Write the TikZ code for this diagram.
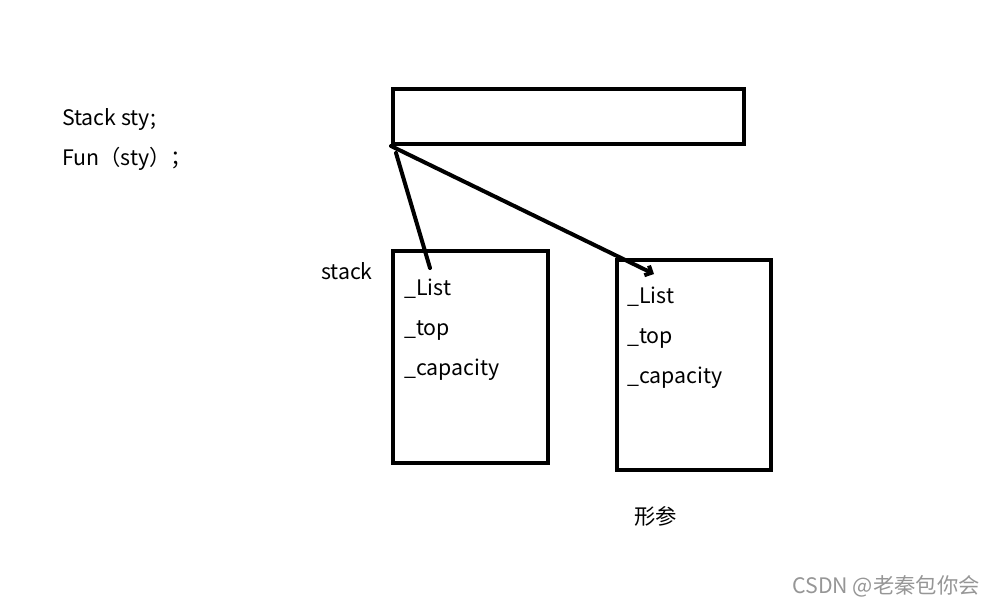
\documentclass[tikz,border=0pt]{standalone}
\usepackage{fontspec}
\setmainfont{Noto Sans CJK SC}
\usepackage{xcolor}
\definecolor{wmgrey}{RGB}{150,150,150}
\usetikzlibrary{arrows.meta}
\tikzset{
  box/.style={draw, line width=3pt, inner sep=0pt},
  txt/.style={anchor=base west, inner sep=0pt, font=\fontsize{16}{19}\selectfont},
  ptr/.style={line width=3pt, line cap=round},
  wm/.style={anchor=base west, inner sep=0pt, text=wmgrey, font=\fontsize{16}{19}\selectfont}
}

\begin{document}
\begin{tikzpicture}[x=0.75pt, y=-0.75pt]
  \useasboundingbox (0,0) rectangle (996,606);
  % code on the left
  \node[txt] (decl) at (62,126) {Stack sty;};
  \node[txt] (call) at (62,166) {Fun（sty）；};
  % the object and the two frames
  \node[box, minimum width=263.25pt, minimum height=41.25pt] (obj) at (568.5,116.5) {};
  \node[box, minimum width=116.25pt, minimum height=159pt] (stk) at (470.5,357) {};
  \node[box, minimum width=115.5pt, minimum height=157.5pt] (arg) at (694,365) {};
  \node[txt, anchor=base east] (stklbl) at (373,279) {stack};
  \node[txt] (l1) at (404,295) {\_List};
  \node[txt] (t1) at (404,335) {\_top};
  \node[txt] (c1) at (404,375) {\_capacity};
  \node[txt] (l2) at (627,303) {\_List};
  \node[txt] (t2) at (627,343) {\_top};
  \node[txt] (c2) at (627,383) {\_capacity};
  \node[txt] (arglbl) at (634,524) {形参};
  \node[wm, anchor=base east] (mark) at (980,593) {CSDN @老秦包你会};
  % pointers
  \coordinate (s1) at (396,153);
  \coordinate (e1) at (430,268);
  \coordinate (e2) at (654,274);
  \draw[ptr] (s1) -- (e1);
  \draw[ptr, -{Straight Barb[length=4pt, width=8pt]}] (obj.south west) -- (e2);
\end{tikzpicture}
\end{document}
